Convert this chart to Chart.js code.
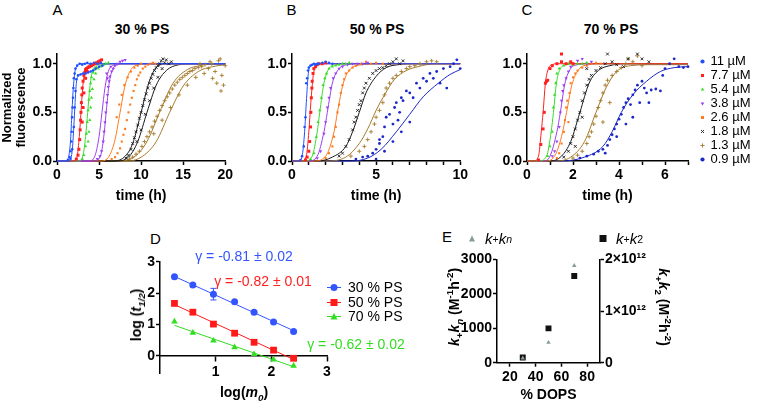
<!DOCTYPE html>
<html>
<head>
<meta charset="utf-8">
<script src="https://cdn.jsdelivr.net/npm/chart.js@4.4.1/dist/chart.umd.min.js"></script>
<style>
  html, body { margin: 0; padding: 0; background: #fff; }
  body { width: 760px; height: 401px; position: relative; overflow: hidden; font-family: Arial, "Liberation Sans", sans-serif; color: #000; }
  canvas { position: absolute; }
  .t { position: absolute; transform: translate(-50%, -50%); white-space: nowrap; line-height: 1; }
  .rl { transform: translate(-50%, -50%) rotate(-90deg); }
  .rr { transform: translate(-50%, -50%) rotate(90deg); }
  .b { font-weight: bold; font-size: 14px; }
  .let { font-size: 15px; }
  .gam { font-size: 14px; }
  .lg { position: absolute; font-size: 14px; line-height: 1; white-space: nowrap; display: flex; align-items: center; transform: translateY(-50%); }
  .lg svg { margin-right: 7px; }
  sub, sup { font-size: 70%; line-height: 0; }
</style>
</head>
<body>

<canvas id="cA" width="235" height="161" style="left:0;top:44px"></canvas>
<canvas id="cB" width="230" height="161" style="left:240px;top:44px"></canvas>
<canvas id="cC" width="290" height="161" style="left:470px;top:44px"></canvas>
<canvas id="cD" width="195" height="135" style="left:140px;top:250px"></canvas>
<canvas id="cE" width="215" height="154" style="left:440px;top:250px"></canvas>

<div class="t let" style="left:57.5px;top:9px">A</div>
<div class="t let" style="left:291.5px;top:9px">B</div>
<div class="t let" style="left:527px;top:9px">C</div>
<div class="t let" style="left:155.5px;top:238px">D</div>
<div class="t let" style="left:447px;top:236px">E</div>

<div class="t b" style="left:142px;top:29px">30 % PS</div>
<div class="t b" style="left:377px;top:29px">50 % PS</div>
<div class="t b" style="left:611px;top:29px">70 % PS</div>

<!-- panel D texts -->
<div class="t gam" style="left:244px;top:256px;color:#3355ff">γ = -0.81 ± 0.02</div>
<div class="t gam" style="left:263px;top:281px;color:#ff2020">γ = -0.82 ± 0.01</div>
<div class="t gam" style="left:356px;top:344px;color:#33dd22">γ = -0.62 ± 0.02</div>
<div class="t b rl" style="left:136px;top:315px">log (<i>t</i><sub><i>1/2</i></sub>)</div>
<div class="t b" style="left:244px;top:392px">log(<i>m</i><sub><i>0</i></sub>)</div>
<div class="lg" style="left:327px;top:287px"><svg width="14" height="9"><line x1="0" y1="4.5" x2="14" y2="4.5" stroke="#3355ff"/><circle cx="7" cy="4.5" r="3.5" fill="#3355ff"/></svg>30 % PS</div>
<div class="lg" style="left:327px;top:302px"><svg width="14" height="9"><line x1="0" y1="4.5" x2="14" y2="4.5" stroke="#ff1a1a"/><rect x="3.5" y="1" width="7" height="7" fill="#ff1a1a"/></svg>50 % PS</div>
<div class="lg" style="left:327px;top:316px"><svg width="14" height="9"><line x1="0" y1="4.5" x2="14" y2="4.5" stroke="#33dd22"/><polygon points="7,1 10.5,7.5 3.5,7.5" fill="#33dd22"/></svg>70 % PS</div>

<!-- panel E texts -->
<div class="t b rl" style="left:454px;top:307px"><i>k</i><sub>+</sub><i>k</i><sub><i>n</i></sub> (M<sup>-1</sup>h<sup>-2</sup>)</div>
<div class="t b rr" style="left:664px;top:307px"><i>k</i><sub>+</sub><i>k</i><sub>2</sub> (M<sup>-2</sup>h<sup>-2</sup>)</div>
<div class="lg" style="left:468px;top:238px;font-size:15px"><svg width="8" height="8" style="margin-right:9px"><polygon points="4,1 7,7 1,7" fill="#8a9a9a"/></svg><i>k</i><sub>+</sub><i>k</i><sub><i>n</i></sub></div>
<div class="lg" style="left:599px;top:238px;font-size:15px"><svg width="8" height="8" style="margin-right:9px"><rect x="0.5" y="0.5" width="7" height="7" fill="#111"/></svg><i>k</i><sub>+</sub><i>k</i><sub>2</sub></div>

<script>
// ---------- A-C: aggregation kinetics, [time (h), normalized fluorescence] ----------
const concLabels = ['11 µM', '7.7 µM', '5.4 µM', '3.8 µM', '2.6 µM', '1.8 µM', '1.3 µM', '0.9 µM'];
const kinTicksY = [0, 0.5, 1.0];
const ticksA = [0, 5, 10, 15, 20];
const minorA = [];
const ticksB = [0, 5, 10];
const minorB = [1, 2, 3, 4, 6, 7, 8, 9];
const ticksC = [0, 2, 4, 6];
const minorC = [1, 3, 5, 7];

// 30 % PS
const a_11 = [[1.3,0.01],[1.5,0.04],[1.6,0.1],[1.7,0.2],[1.75,0.3],[1.8,0.45],[1.85,0.55],[1.9,0.65],[1.95,0.75],[2.0,0.85],[2.1,0.9],[2.2,0.95],[2.4,0.98],[2.7,1.0],[3.0,0.99],[3.3,1.0],[3.6,1.01],[4.0,1.0],[4.4,1.01],[4.8,1.0],[5.2,1.01],[1.6,0.02],[1.8,0.12],[2.0,0.35],[2.1,0.55],[2.2,0.72],[2.3,0.84],[2.5,0.88],[2.8,0.89],[3.1,0.9],[3.4,0.9],[3.7,0.91],[4.0,0.92],[4.3,0.93],[4.6,0.95],[5.0,0.97],[5.4,0.98]];
const a_7_7 = [[2.3,0.02],[2.5,0.06],[2.6,0.12],[2.7,0.22],[2.75,0.32],[2.8,0.42],[2.85,0.5],[2.9,0.6],[2.95,0.68],[3.0,0.75],[3.1,0.82],[3.2,0.88],[3.3,0.91],[3.4,0.94],[3.5,0.95],[3.7,0.96],[3.9,0.97],[4.1,0.98],[4.3,0.99],[4.5,1.0],[4.7,1.01],[4.9,1.02],[5.1,1.03],[5.3,1.04],[3.0,0.4],[3.1,0.55],[3.2,0.7],[3.4,0.85],[3.6,0.92]];
const a_5_4 = [[3.0,0.02],[3.2,0.06],[3.4,0.15],[3.5,0.28],[3.6,0.4],[3.7,0.52],[3.8,0.63],[3.9,0.72],[4.0,0.8],[4.1,0.86],[4.3,0.91],[4.5,0.94],[4.7,0.96],[3.7,0.2],[3.8,0.3],[3.9,0.42],[4.0,0.55],[4.1,0.65],[4.2,0.74],[4.4,0.84],[4.6,0.9],[4.9,0.95],[5.2,0.97],[5.5,0.99],[5.8,1.0],[6.1,1.01]];
const a_3_8 = [[4.8,0.02],[5.1,0.05],[5.3,0.1],[5.5,0.2],[5.6,0.3],[5.7,0.4],[5.8,0.5],[5.9,0.6],[6.0,0.68],[6.1,0.76],[6.2,0.82],[6.3,0.87],[6.5,0.92],[6.7,0.95],[6.0,0.85],[5.9,0.9],[6.4,0.97],[6.9,0.98],[7.2,1.0],[7.5,1.02],[7.8,1.03],[8.1,1.04]];
const a_2_6 = [[6.5,0.02],[6.9,0.04],[7.2,0.08],[7.5,0.13],[7.7,0.2],[7.9,0.27],[8.1,0.33],[8.3,0.42],[8.5,0.5],[8.7,0.58],[8.9,0.65],[9.1,0.72],[9.3,0.78],[9.5,0.84],[9.7,0.88],[9.9,0.91],[10.2,0.95],[10.5,0.97],[10.8,0.99],[11.1,1.0],[11.4,1.01],[11.7,1.0],[7.1,0.45],[7.4,0.58],[7.7,0.68],[8.0,0.78],[8.4,0.86],[8.8,0.92],[9.2,0.96],[9.6,0.98],[10.0,1.0]];
const a_1_8 = [[8.2,0.03],[8.5,0.06],[8.8,0.12],[9.0,0.18],[9.2,0.24],[9.4,0.3],[9.6,0.37],[9.8,0.44],[10.0,0.5],[10.2,0.57],[10.4,0.63],[10.6,0.69],[10.8,0.75],[11.0,0.8],[11.2,0.85],[11.4,0.89],[11.6,0.93],[11.8,0.96],[12.0,0.98],[12.2,1.0],[12.4,1.03],[12.6,1.05],[12.8,1.01],[13.0,1.04],[13.3,1.0],[13.6,1.02],[9.5,0.2],[10.0,0.32],[10.5,0.48],[11.0,0.62],[11.5,0.75],[12.0,0.86],[12.5,0.95]];
const a_1_3 = [[8.6,0.02],[9.0,0.04],[9.4,0.07],[9.8,0.1],[10.1,0.15],[10.4,0.2],[10.7,0.25],[11.0,0.3],[11.3,0.35],[11.6,0.41],[11.9,0.46],[12.2,0.52],[12.5,0.57],[12.8,0.62],[13.1,0.66],[13.4,0.7],[13.7,0.74],[14.0,0.78],[14.3,0.81],[14.6,0.84],[14.9,0.86],[15.2,0.88],[15.5,0.9],[15.8,0.92],[16.1,0.93],[16.4,0.95],[16.8,0.96],[17.2,0.97],[17.6,0.99],[18.0,0.95],[18.4,1.0],[18.8,0.92],[19.2,1.03],[19.6,0.88],[20.0,0.98],[11.5,0.28],[12.5,0.42],[13.5,0.55],[14.5,0.68],[15.5,0.78],[16.5,0.86],[17.5,0.9],[18.5,0.85],[19.0,0.8],[19.5,0.72],[19.8,0.78],[19.4,1.05],[18.2,1.02],[17.0,1.0]];
// fitted curves, 30 % PS
const a_fit_11 = [[0,0],[1.0,0],[1.4,0.05],[1.6,0.2],[1.75,0.45],[1.9,0.7],[2.1,0.9],[2.4,0.98],[2.8,1.0],[20,1.0]];
const a_fit_11b = [[0,0],[1.4,0],[1.8,0.1],[2.0,0.35],[2.15,0.6],[2.3,0.8],[2.6,0.88],[3.2,0.9],[4.0,0.92],[4.8,0.96],[5.6,0.99],[6.5,1.0],[20,1.0]];
const a_fit_7_7 = [[0,0],[2.0,0],[2.4,0.05],[2.65,0.25],[2.85,0.5],[3.05,0.75],[3.3,0.92],[3.7,0.98],[4.3,1.0],[20,1.0]];
const a_fit_5_4 = [[0,0],[2.6,0],[3.1,0.06],[3.4,0.25],[3.65,0.5],[3.9,0.75],[4.2,0.92],[4.7,0.98],[5.5,1.0],[20,1.0]];
const a_fit_3_8 = [[0,0],[3.8,0],[4.5,0.05],[5.0,0.25],[5.35,0.5],[5.7,0.75],[6.1,0.92],[6.6,0.98],[7.5,1.0],[20,1.0]];
const a_fit_3_8b = [[0,0],[4.5,0],[5.2,0.06],[5.6,0.28],[5.9,0.55],[6.2,0.8],[6.6,0.94],[7.2,0.99],[8.0,1.0],[20,1.0]];
const a_fit_2_6 = [[0,0],[5.2,0],[6.2,0.05],[6.9,0.22],[7.5,0.5],[8.1,0.78],[8.8,0.94],[9.6,0.99],[10.5,1.0],[20,1.0]];
const a_fit_1_8 = [[0,0],[6.5,0],[8.0,0.04],[9.0,0.18],[10.0,0.5],[10.9,0.8],[11.6,0.94],[12.3,0.99],[13.0,1.0],[20,1.0]];
const a_fit_1_8b = [[0,0],[7.0,0],[8.5,0.04],[9.6,0.2],[10.7,0.5],[11.8,0.78],[13.0,0.93],[14.5,0.99],[16,1.0],[20,1.0]];
const a_fit_1_3 = [[0,0],[7.5,0],[9.3,0.05],[10.7,0.2],[12.2,0.5],[13.8,0.8],[15.5,0.94],[17.0,0.98],[18.5,1.0],[20,1.0]];
const a_fit_1_3b = [[0,0],[8.5,0],[10.2,0.05],[11.8,0.2],[13.4,0.5],[15.0,0.77],[16.8,0.92],[18.5,0.97],[20,0.99]];

// 50 % PS
const b_11 = [[0.5,0.01],[0.6,0.05],[0.7,0.15],[0.75,0.35],[0.8,0.45],[0.85,0.8],[0.9,0.85],[0.95,0.93],[1.0,0.96],[1.1,0.98],[1.2,0.99],[1.3,1.0],[1.4,0.99],[1.5,1.0],[1.6,1.0],[1.8,1.01],[2.0,1.02],[2.2,1.01],[2.4,1.0]];
const b_7_7 = [[0.8,0.01],[0.9,0.04],[1.0,0.1],[1.05,0.2],[1.1,0.35],[1.12,0.5],[1.15,0.65],[1.18,0.75],[1.2,0.82],[1.25,0.9],[1.3,0.95],[1.4,0.97],[1.5,0.99],[1.6,1.0],[1.8,1.0],[2.0,1.01]];
const b_5_4 = [[1.1,0.02],[1.3,0.08],[1.45,0.25],[1.55,0.4],[1.65,0.52],[1.75,0.65],[1.85,0.78],[1.95,0.85],[2.05,0.9],[2.2,0.95],[2.4,0.97],[2.6,0.98],[2.8,0.99],[3.0,1.0],[3.2,1.0],[3.4,1.01]];
const b_3_8 = [[1.5,0.03],[1.7,0.1],[1.9,0.28],[2.0,0.4],[2.1,0.55],[2.2,0.65],[2.3,0.75],[2.45,0.85],[2.6,0.9],[2.8,0.95],[3.0,0.97],[3.3,0.99],[3.6,1.0],[3.9,1.0],[4.2,1.0],[4.5,1.01]];
const b_2_6 = [[2.0,0.03],[2.2,0.08],[2.4,0.15],[2.5,0.25],[2.6,0.35],[2.7,0.5],[2.8,0.58],[2.9,0.7],[3.0,0.78],[3.1,0.84],[3.2,0.9],[3.4,0.93],[3.6,0.96],[3.8,0.98],[4.1,1.0],[4.4,1.02],[4.7,1.0],[5.0,1.01],[5.4,1.0]];
const b_1_8 = [[2.8,0.05],[3.0,0.08],[3.2,0.15],[3.4,0.22],[3.6,0.32],[3.7,0.4],[3.8,0.45],[3.9,0.52],[4.0,0.58],[4.1,0.62],[4.2,0.7],[4.3,0.75],[4.4,0.8],[4.6,0.85],[4.8,0.9],[5.0,0.93],[5.2,0.95],[5.4,0.96],[5.6,0.98],[5.8,1.0],[6.0,1.02],[6.2,1.05],[6.4,1.0],[6.6,1.03]];
const b_1_3 = [[3.5,0.05],[4.0,0.1],[4.3,0.15],[4.5,0.22],[4.7,0.3],[4.9,0.38],[5.0,0.45],[5.2,0.52],[5.4,0.6],[5.5,0.68],[5.6,0.75],[5.8,0.8],[6.0,0.85],[6.2,0.88],[6.5,0.92],[6.8,0.95],[7.0,0.97],[7.3,0.98],[7.6,1.0],[8.0,1.02],[8.3,1.03],[8.6,1.02]];
const b_0_9 = [[3.8,0.02],[4.2,0.04],[4.5,0.05],[4.8,0.08],[5.0,0.12],[5.2,0.18],[5.4,0.25],[5.5,0.35],[5.6,0.45],[5.8,0.48],[6.0,0.38],[6.1,0.55],[6.2,0.6],[6.4,0.5],[6.5,0.65],[6.6,0.62],[6.8,0.72],[7.0,0.7],[7.2,0.65],[7.4,0.8],[7.6,0.75],[7.8,0.85],[8.0,0.82],[8.2,0.9],[8.4,0.85],[8.6,0.92],[8.8,0.8],[9.0,0.95],[9.2,0.75],[9.4,0.97],[9.6,1.0],[9.8,1.04],[10.0,0.95],[5.0,0.02],[5.5,0.1],[6.0,0.2],[6.5,0.3],[7.0,0.4],[5.2,0.22],[6.3,0.42]];
const b_fit_11 = [[0,0],[0.4,0],[0.6,0.05],[0.75,0.3],[0.85,0.6],[0.97,0.9],[1.12,0.98],[1.4,1.0],[10,1.0]];
const b_fit_7_7 = [[0,0],[0.6,0],[0.85,0.05],[1.0,0.3],[1.12,0.6],[1.28,0.9],[1.5,0.98],[1.8,1.0],[10,1.0]];
const b_fit_5_4 = [[0,0],[0.8,0],[1.2,0.05],[1.5,0.3],[1.65,0.5],[1.9,0.8],[2.2,0.95],[2.6,0.99],[3.0,1.0],[10,1.0]];
const b_fit_3_8 = [[0,0],[1.0,0],[1.5,0.05],[1.9,0.3],[2.1,0.5],[2.4,0.8],[2.8,0.95],[3.3,0.99],[3.8,1.0],[10,1.0]];
const b_fit_2_6 = [[0,0],[1.3,0],[2.0,0.05],[2.5,0.3],[2.7,0.5],[3.05,0.8],[3.5,0.95],[4.2,0.99],[4.8,1.0],[10,1.0]];
const b_fit_1_8 = [[0,0],[1.5,0],[2.4,0.04],[3.2,0.15],[3.6,0.3],[4.0,0.5],[4.4,0.7],[5.0,0.87],[5.6,0.96],[6.3,0.99],[7.0,1.0],[10,1.0]];
const b_fit_1_3 = [[0,0],[2.0,0],[3.2,0.04],[4.0,0.18],[4.5,0.33],[5.0,0.52],[5.5,0.68],[6.1,0.84],[6.8,0.93],[7.5,0.97],[8.5,1.0],[10,1.0]];
const b_fit_0_9 = [[0,0],[3.5,0],[4.5,0.03],[5.3,0.12],[6.2,0.3],[7.0,0.48],[7.8,0.66],[8.7,0.8],[9.4,0.89],[10,0.94]];

// 70 % PS (no 11 µM trace)
const c_7_7 = [[0.5,0.01],[0.6,0.17],[0.7,0.33],[0.75,0.5],[0.8,0.8],[0.85,0.82],[0.9,0.83],[1.0,0.95],[1.1,0.98],[1.3,1.0],[1.5,1.02],[1.5,1.1],[1.7,1.0],[1.9,1.02],[2.0,1.0]];
const c_5_4 = [[0.9,0.05],[1.0,0.15],[1.1,0.3],[1.15,0.55],[1.2,0.68],[1.25,0.8],[1.3,0.9],[1.4,0.95],[1.6,0.98],[1.8,1.0],[2.0,0.99],[2.2,1.0],[2.4,1.0],[2.6,1.01]];
const c_3_8 = [[1.1,0.05],[1.2,0.1],[1.3,0.2],[1.4,0.35],[1.45,0.5],[1.5,0.62],[1.55,0.72],[1.6,0.78],[1.7,0.85],[1.8,0.92],[1.9,0.97],[2.0,1.0],[2.2,1.03],[2.4,1.05],[2.6,1.0],[2.8,1.02]];
const c_2_6 = [[1.3,0.03],[1.4,0.08],[1.5,0.18],[1.6,0.3],[1.65,0.42],[1.7,0.55],[1.75,0.62],[1.8,0.4],[1.85,0.7],[1.9,0.8],[2.0,0.86],[2.1,0.9],[2.2,0.93],[2.4,0.96],[2.6,0.98],[2.8,1.0],[3.0,1.01],[3.2,1.0]];
const c_1_8 = [[1.6,0.04],[1.8,0.1],[1.9,0.18],[2.0,0.25],[2.1,0.33],[2.2,0.42],[2.3,0.5],[2.4,0.62],[2.5,0.7],[2.6,0.78],[2.7,0.84],[2.8,0.88],[3.0,0.93],[3.2,0.96],[3.4,1.0],[3.5,1.1],[3.7,1.02],[3.9,0.99],[4.2,0.97],[4.4,1.05],[4.8,1.1],[5.0,1.05],[5.3,1.02],[2.1,0.15],[2.4,0.45],[2.6,0.95]];
const c_1_3 = [[2.0,0.03],[2.2,0.06],[2.4,0.1],[2.6,0.18],[2.7,0.25],[2.8,0.3],[2.9,0.38],[3.0,0.46],[3.1,0.55],[3.2,0.62],[3.3,0.7],[3.4,0.78],[3.5,0.83],[3.7,0.88],[3.9,0.92],[4.1,0.96],[4.3,1.0],[4.4,1.05],[4.6,1.02],[4.8,1.08],[5.0,0.98],[3.3,0.4],[3.6,0.6]];
const c_0_9 = [[2.3,0.03],[2.6,0.05],[2.9,0.07],[3.1,0.1],[3.3,0.12],[3.5,0.16],[3.6,0.22],[3.7,0.27],[3.8,0.33],[3.9,0.38],[4.0,0.43],[4.1,0.48],[4.2,0.55],[4.3,0.6],[4.4,0.64],[4.5,0.58],[4.6,0.68],[4.7,0.73],[4.8,0.78],[5.0,0.82],[5.1,0.75],[5.3,0.6],[5.4,0.73],[5.6,0.74],[5.8,0.72],[5.9,0.88],[6.0,0.95],[6.2,1.0],[6.4,1.05],[6.6,0.97],[6.8,0.96],[7.0,0.97],[3.4,0.08],[3.9,0.25],[4.3,0.38],[4.6,0.45],[4.9,0.6],[5.2,0.7]];
const c_fit_7_7 = [[0,0],[0.3,0],[0.5,0.05],[0.62,0.3],[0.7,0.5],[0.8,0.8],[0.93,0.95],[1.1,0.99],[1.3,1.0],[7,1.0]];
const c_fit_5_4 = [[0,0],[0.5,0],[0.85,0.05],[1.05,0.3],[1.15,0.5],[1.28,0.8],[1.45,0.95],[1.7,0.99],[2.0,1.0],[7,1.0]];
const c_fit_3_8 = [[0,0],[0.7,0],[1.0,0.05],[1.3,0.3],[1.45,0.5],[1.65,0.8],[1.9,0.95],[2.2,0.99],[2.6,1.0],[7,1.0]];
const c_fit_2_6 = [[0,0],[0.8,0],[1.2,0.05],[1.5,0.25],[1.72,0.5],[1.95,0.78],[2.25,0.94],[2.7,0.99],[3.2,1.0],[7,1.0]];
const c_fit_1_8 = [[0,0],[1.0,0],[1.5,0.05],[1.9,0.2],[2.3,0.5],[2.7,0.8],[3.1,0.93],[3.6,0.98],[4.2,1.0],[7,1.0]];
const c_fit_1_3 = [[0,0],[1.2,0],[1.9,0.04],[2.5,0.2],[3.0,0.5],[3.45,0.76],[3.9,0.92],[4.5,0.98],[5.5,0.99],[7,0.99]];
const c_fit_0_9 = [[0,0],[1.5,0],[2.5,0.04],[3.3,0.15],[3.7,0.3],[4.1,0.5],[4.6,0.68],[5.2,0.82],[5.8,0.92],[6.4,0.96],[7,0.97]];

// ---------- D: log(t1/2) vs log(m0) ----------
const D_logM = [0.26, 0.59, 0.96, 1.34, 1.69, 2.04, 2.40];
const D_ps30 = [2.52, 2.26, 1.96, 1.72, 1.39, 1.08, 0.77];
const D_ps50 = [1.67, 1.39, 1.01, 0.72, 0.43, 0.18, -0.08];
const D_ps70 = [1.09, 0.73, 0.48, 0.27, 0.05, -0.12, -0.32];
const D_fitX = [0.26, 2.40];
const D_fit30 = [2.53, 0.80];
const D_fit50 = [1.63, -0.12];
const D_fit70 = [0.97, -0.35];
const D_errX = [0.96];
const D_errLo = [1.78];
const D_errHi = [2.15];
const D_ticksX = [1, 2, 3];
const D_ticksY = [0, 1, 2, 3];

// ---------- E: rate constants vs % DOPS ----------
const E_dops = [30, 50, 70];
const E_kkn = [130, 585, 2820];
const E_kk2 = [0.1e12, 0.665e12, 1.68e12];
const E_ticksX = [20, 40, 60, 80];
const E_ticksY = [0, 1000, 2000, 3000];
const E_ticksY2 = [0, 1e12, 2e12];

Chart.defaults.font.family = 'Arial, "Liberation Sans", Helvetica, sans-serif';
Chart.defaults.color = '#000';

const kinColors = ['#2050ff', '#ff1f1f', '#3bdc2a', '#9b3ff0', '#ff7a1f', '#1a1a1a', '#a57a2c', '#1c28c8'];
const kinStyles = ['circle', 'rect', 'triangle', 'triangle', 'rect', 'crossRot', 'cross', 'circle'];
const kinRot = [0, 0, 0, 180, 0, 0, 0, 0];
const kinRadius = [1.3, 2.1, 1.9, 1.9, 1.5, 2.0, 2.0, 1.4];

const pts = arr => arr.map(p => ({ x: p[0], y: p[1] }));
const zip = (xs, ys) => xs.map((x, i) => ({ x, y: ys[i] }));
const fixTicks = list => s => { s.ticks = list.map(v => ({ value: v })); };

function kineticDatasets(points, fits) {
  const ds = [];
  points.forEach((p, i) => {
    const cross = kinStyles[i].startsWith('cross');
    ds.push({
      label: concLabels[i], data: pts(p),
      pointStyle: kinStyles[i], pointRotation: kinRot[i], pointRadius: kinRadius[i],
      backgroundColor: kinColors[i], borderColor: kinColors[i],
      pointBorderWidth: cross ? 0.9 : 0, clip: false
    });
  });
  fits.forEach((list, i) => list.forEach(f => {
    ds.push({
      label: '', data: pts(f), showLine: true, pointRadius: 0,
      borderColor: kinColors[i], borderWidth: 1,
      cubicInterpolationMode: 'monotone', clip: false
    });
  }));
  return ds;
}

function axisStyle() {
  return {
    border: { display: true, color: '#000', width: 1.5 },
    grid: { drawOnChartArea: false, drawTicks: true, tickLength: 4, color: '#000', tickWidth: 1.5 }
  };
}
const tickFont = { size: 14, weight: 'bold' };

function kineticChart(id, datasets, xMax, xTicks, xMinor, yWidth, yTitle, rightPad, legend) {
  const allX = xTicks.concat(xMinor).sort((a, b) => a - b);
  const scales = {
    x: Object.assign(axisStyle(), {
      type: 'linear', min: 0, max: xMax,
      afterBuildTicks: fixTicks(allX), afterFit: s => { s.height = 44; },
      ticks: { font: tickFont, padding: 2, maxRotation: 0, autoSkip: false,
        callback: v => xTicks.includes(v) ? String(v) : '' },
      title: { display: true, text: 'time (h)', font: tickFont, padding: 0 }
    }),
    y: Object.assign(axisStyle(), {
      type: 'linear', min: 0, max: 1.1,
      afterBuildTicks: fixTicks(kinTicksY), afterFit: s => { s.width = yWidth; },
      ticks: { font: tickFont, padding: 1, callback: v => v.toFixed(1) },
      title: yTitle ? { display: true, text: yTitle, font: { size: 13, weight: 'bold', lineHeight: 1.1 }, padding: 0 } : { display: false }
    })
  };
  if (legend) {
    scales.gap = { position: 'right', display: true, grid: { display: false }, border: { display: false },
      ticks: { display: false }, afterFit: s => { s.width = 12; } };
  }
  return new Chart(document.getElementById(id), {
    type: 'scatter',
    data: { datasets },
    options: {
      responsive: false, animation: false, events: [],
      layout: { padding: { top: 10, right: rightPad, left: 0, bottom: 0 } },
      plugins: {
        tooltip: { enabled: false },
        legend: legend ? {
          display: true, position: 'right', align: 'start', maxWidth: 60,
          labels: { usePointStyle: true, boxWidth: 3, boxHeight: 3, padding: 1, font: { size: 13 },
            filter: item => item.text !== '' }
        } : { display: false }
      },
      scales
    }
  });
}

kineticChart('cA',
  kineticDatasets([a_11, a_7_7, a_5_4, a_3_8, a_2_6, a_1_8, a_1_3],
    [[a_fit_11, a_fit_11b], [a_fit_7_7], [a_fit_5_4], [a_fit_3_8, a_fit_3_8b], [a_fit_2_6], [a_fit_1_8, a_fit_1_8b], [a_fit_1_3, a_fit_1_3b]]),
  20, ticksA, minorA, 57, ['Normalized', 'fluorescence'], 8, false);

kineticChart('cB',
  kineticDatasets([b_11, b_7_7, b_5_4, b_3_8, b_2_6, b_1_8, b_1_3, b_0_9],
    [[b_fit_11], [b_fit_7_7], [b_fit_5_4], [b_fit_3_8], [b_fit_2_6], [b_fit_1_8], [b_fit_1_3], [b_fit_0_9]]),
  10, ticksB, minorB, 52, null, 7, false);

kineticChart('cC',
  kineticDatasets([[], c_7_7, c_5_4, c_3_8, c_2_6, c_1_8, c_1_3, c_0_9],
    [[], [c_fit_7_7], [c_fit_5_4], [c_fit_3_8], [c_fit_2_6], [c_fit_1_8], [c_fit_1_3], [c_fit_0_9]]),
  7, ticksC, minorC, 57, null, 0, true);

// error bars drawn through the chart scales
const errorBars = {
  id: 'errorBars',
  afterDatasetsDraw(chart, args, o) {
    const { ctx, scales: { x, y } } = chart;
    ctx.save();
    ctx.strokeStyle = o.color; ctx.lineWidth = 1;
    o.x.forEach((xv, i) => {
      const px = x.getPixelForValue(xv), hi = y.getPixelForValue(o.hi[i]), lo = y.getPixelForValue(o.lo[i]);
      ctx.beginPath();
      ctx.moveTo(px, hi); ctx.lineTo(px, lo);
      ctx.moveTo(px - 3, hi); ctx.lineTo(px + 3, hi);
      ctx.moveTo(px - 3, lo); ctx.lineTo(px + 3, lo);
      ctx.stroke();
    });
    ctx.restore();
  }
};

const dBlue = '#3355ff', dRed = '#ff1a1a', dGreen = '#33dd22';
const fitLine = (ys, c) => ({ label: '', data: zip(D_fitX, ys), showLine: true, pointRadius: 0, borderColor: c, borderWidth: 1, clip: false });
new Chart(document.getElementById('cD'), {
  type: 'scatter',
  data: { datasets: [
    { label: '30 % PS', data: zip(D_logM, D_ps30), pointStyle: 'circle', pointRadius: 3.5, backgroundColor: dBlue, borderColor: dBlue, pointBorderWidth: 0, clip: false },
    { label: '50 % PS', data: zip(D_logM, D_ps50), pointStyle: 'rect', pointRadius: 4.8, backgroundColor: dRed, borderColor: dRed, pointBorderWidth: 0, clip: false },
    { label: '70 % PS', data: zip(D_logM, D_ps70), pointStyle: 'triangle', pointRadius: 3.8, backgroundColor: dGreen, borderColor: dGreen, pointBorderWidth: 0, clip: false },
    fitLine(D_fit30, dBlue), fitLine(D_fit50, dRed), fitLine(D_fit70, dGreen)
  ] },
  plugins: [errorBars],
  options: {
    responsive: false, animation: false, events: [],
    layout: { padding: { top: 11.7, right: 8, left: 0, bottom: 12 } },
    plugins: { legend: { display: false }, tooltip: { enabled: false },
      errorBars: { x: D_errX, lo: D_errLo, hi: D_errHi, color: dBlue } },
    scales: {
      x: Object.assign(axisStyle(), {
        type: 'linear', min: 0, max: 3, position: { y: 0 },
        afterBuildTicks: fixTicks(D_ticksX), afterFit: s => { s.height = 0; },
        grid: { drawOnChartArea: false, drawTicks: true, tickLength: 5, color: '#000', tickWidth: 1.5 },
        ticks: { font: tickFont, padding: 3, maxRotation: 0, autoSkip: false }
      }),
      y: Object.assign(axisStyle(), {
        type: 'linear', min: -0.55, max: 3,
        afterBuildTicks: fixTicks(D_ticksY), afterFit: s => { s.width = 20; },
        ticks: { font: tickFont, padding: 1 }
      })
    }
  }
});

new Chart(document.getElementById('cE'), {
  type: 'scatter',
  data: { datasets: [
    { label: 'k+kn', data: zip(E_dops, E_kkn), yAxisID: 'y', pointStyle: 'triangle', pointRadius: 2.6, backgroundColor: '#8a9a9a', pointBorderWidth: 0 },
    { label: 'k+k2', data: zip(E_dops, E_kk2), yAxisID: 'y2', pointStyle: 'rect', pointRadius: 4.2, backgroundColor: '#111', pointBorderWidth: 0 }
  ] },
  options: {
    responsive: false, animation: false, events: [],
    layout: { padding: { top: 7.3, right: 5, left: 0, bottom: 0 } },
    plugins: { legend: { display: false }, tooltip: { enabled: false } },
    scales: {
      x: Object.assign(axisStyle(), {
        type: 'linear', min: 10, max: 90,
        afterBuildTicks: fixTicks(E_ticksX), afterFit: s => { s.height = 41.3; },
        ticks: { font: tickFont, padding: 2, maxRotation: 0, autoSkip: false },
        title: { display: true, text: '% DOPS', font: tickFont, padding: 0 }
      }),
      y: Object.assign(axisStyle(), {
        type: 'linear', position: 'left', min: 0, max: 3000,
        afterBuildTicks: fixTicks(E_ticksY), afterFit: s => { s.width = 57; },
        ticks: { font: tickFont, padding: 1, callback: v => String(v) }
      }),
      y2: Object.assign(axisStyle(), {
        type: 'linear', position: 'right', min: 0, max: 2e12,
        afterBuildTicks: fixTicks(E_ticksY2), afterFit: s => { s.width = 50; },
        ticks: { font: tickFont, padding: 1, callback: v => v === 0 ? '0' : (v / 1e12) + '×10¹²' }
      })
    }
  }
});
</script>
</body>
</html>
